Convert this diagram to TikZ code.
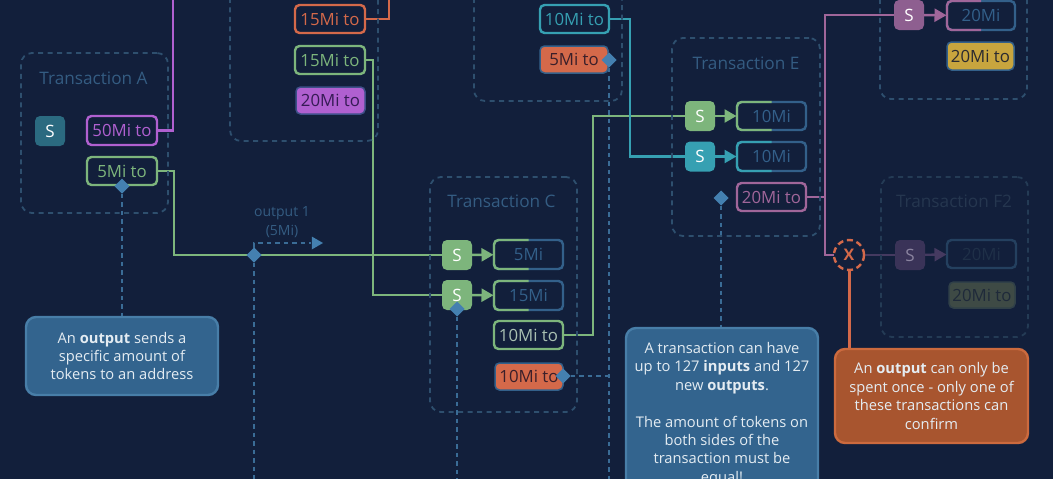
\documentclass[tikz,border=0pt]{standalone}
\usepackage{fontspec}
\setmainfont{Open Sans}
\usetikzlibrary{arrows.meta,shapes.geometric,backgrounds}
\definecolor{bgc}{HTML}{121F3B}
\definecolor{framec}{HTML}{2E4F6E}
\definecolor{dashc}{HTML}{3A6C96}
\definecolor{diac}{HTML}{4480B0}
\definecolor{titlec}{HTML}{345C82}
\definecolor{bluec}{HTML}{33608A}
\definecolor{greenc}{HTML}{7DB57C}
\definecolor{purplec}{HTML}{B060D0}
\definecolor{orangec}{HTML}{D4694A}
\definecolor{tealc}{HTML}{36A0B2}
\definecolor{mauvec}{HTML}{A0669A}
\definecolor{yellowc}{HTML}{C8A53E}
\definecolor{callblue}{HTML}{33648E}
\definecolor{callblueb}{HTML}{487EA8}
\definecolor{callor}{HTML}{A8552F}
\definecolor{callorb}{HTML}{CC6A3E}
\definecolor{calltext}{HTML}{E4ECF2}
\definecolor{fadetext}{HTML}{25364F}
\definecolor{fadeline}{HTML}{453A60}
\definecolor{fadeframe}{HTML}{243B55}
\definecolor{sAc}{HTML}{2B6A80}
\definecolor{darkpurple}{HTML}{351B55}
\definecolor{purpleb}{HTML}{3D4F88}
\definecolor{lightgreen}{HTML}{A9C0B2}
\definecolor{darkred}{HTML}{3A1F2A}
\definecolor{sFc}{HTML}{8E5F90}
\definecolor{darkgrey}{HTML}{2A2A30}
\definecolor{sGc}{HTML}{3A3358}
\definecolor{sGt}{HTML}{8B84A0}
\definecolor{gBorder}{HTML}{24405F}
\definecolor{gText}{HTML}{1F3048}
\definecolor{hBorder}{HTML}{304048}
\definecolor{hFill}{HTML}{3E4A45}
\definecolor{hText}{HTML}{1F2A3A}
\tikzset{
  frame/.style={draw=framec,line width=1.8pt,dash pattern=on 5pt off 4.5pt,rounded corners=11pt,inner sep=0,outer sep=0},
  title/.style={text=titlec,font=\fontsize{17.2}{19}\selectfont,inner sep=0},
  amount/.style={line width=2.4pt,rounded corners=4.5pt,inner sep=0,outer sep=0,font=\fontsize{16.8}{19}\selectfont},
  filled/.style={amount,line width=1.5pt},
  sbox/.style={rounded corners=5pt,text=white,font=\fontsize{17}{19}\selectfont,inner sep=0,outer sep=0,minimum size=30pt},
  conn/.style={line width=2.6pt},
  flow/.style={line width=2.4pt,-{Triangle[length=12pt,width=13pt]},shorten >=0.5pt},
  dotline/.style={line width=2.4pt,draw=dashc,dash pattern=on 4.5pt off 4pt},
  dia/.style={diamond,fill=diac,inner sep=0,outer sep=0,minimum size=15pt},
  callout/.style={line width=2.4pt,rounded corners=10pt,inner sep=0,outer sep=0,text=calltext,align=center,font=\fontsize{14.7}{18.4}\selectfont},
}
% place a node between two corners: style, name, x1, y1, x2, y2, text
\newcommand{\pbox}[7]{%
  \pgfmathsetmacro{\pcx}{(#3+#5)/2}\pgfmathsetmacro{\pcy}{(#4+#6)/2}%
  \pgfmathsetmacro{\pw}{#5-#3}\pgfmathsetmacro{\ph}{#6-#4}%
  \node[#1,minimum width=\pw pt,minimum height=\ph pt] (#2) at (\pcx,\pcy) {#7};}
% half-and-half border box: name, x1, y1, x2, y2, left colour, right colour, text colour, text
\newcommand{\halfbox}[9]{%
  \pbox{amount,draw=#7,text=#8}{#1}{#2}{#3}{#4}{#5}{#9}
  \pgfmathsetmacro{\pmx}{(#2+#4)/2}%
  \begin{scope}
    \clip (#2-3,#3-3) rectangle (\pmx,#5+3);
    \pbox{amount,draw=#6}{#1l}{#2}{#3}{#4}{#5}{}
  \end{scope}}
\begin{document}
\begin{tikzpicture}[x=1pt,y=-1pt]
\useasboundingbox (0,0) rectangle (1053,479);
\begin{scope}[on background layer]
  \fill[bgc] (0,0) rectangle (1053,479);
\end{scope}

% transaction frames
\pbox{frame}{txA}{21}{53}{168}{213}{}
\pbox{frame}{txB}{230}{-60}{378}{141}{}
\pbox{frame}{txC}{430}{177}{577}{412}{}
\pbox{frame}{txD}{474}{-60}{622}{101}{}
\pbox{frame}{txE}{672}{38}{820}{236}{}
\pbox{frame}{txF}{880}{-60}{1027}{99}{}
\pbox{frame,draw=fadeframe}{txFb}{881}{177}{1028}{337}{}

% frame titles
\node[title] (tA) at (93.5,78) {Transaction A};
\node[title] (tC) at (501.5,201.5) {Transaction C};
\node[title] (tE) at (746,63) {Transaction E};
\node[title,text=fadetext] (tF) at (954,201.5) {Transaction F2};

% transaction A
\pbox{sbox,fill=sAc}{sA}{35}{116}{65}{146}{S}
\pbox{amount,draw=purplec,text=purplec}{a50}{87}{116}{157}{145}{50Mi to}
\pbox{amount,draw=greenc,text=greenc}{a5}{87}{157}{157}{185}{5Mi to}

% transaction B
\pbox{amount,draw=orangec,text=orangec}{b15o}{295}{5}{365}{33}{15Mi to}
\pbox{amount,draw=greenc,text=greenc}{b15g}{295}{46}{365}{74}{15Mi to}
\pbox{filled,draw=purpleb,fill=purplec,text=darkpurple}{b20}{296}{87}{365}{114}{20Mi to}

% transaction C
\pbox{sbox,fill=greenc}{s1}{442}{240}{472}{270}{S}
\pbox{sbox,fill=greenc}{s2}{442}{280}{472}{310}{S}
\halfbox{c5}{494}{240}{563}{269}{greenc}{bluec}{bluec}{5Mi}
\halfbox{c15}{494}{281}{563}{310}{greenc}{bluec}{bluec}{15Mi}
\pbox{amount,draw=greenc,text=lightgreen}{c10}{494}{321}{563}{349}{10Mi to}
\pbox{filled,draw=bluec,fill=orangec,text=darkred}{c10o}{495}{363}{563}{390}{10Mi to}

% transaction D
\pbox{amount,draw=tealc,text=tealc}{d10}{540}{5}{609}{33}{10Mi to}
\pbox{filled,draw=bluec,fill=orangec,text=darkred}{d5}{540}{46}{608}{73}{5Mi to}

% transaction E
\pbox{sbox,fill=greenc}{s3}{685}{101}{715}{131}{S}
\pbox{sbox,fill=tealc}{s4}{685}{141.5}{715}{171.5}{S}
\halfbox{e1}{737}{102}{806}{130}{greenc}{bluec}{bluec}{10Mi}
\halfbox{e2}{737}{142}{806}{171}{tealc}{bluec}{bluec}{10Mi}
\pbox{amount,draw=mauvec,text=mauvec}{e20}{737}{183}{806}{211}{20Mi to}

% transaction F
\pbox{sbox,fill=sFc}{s5}{894}{0}{924}{30}{S}
\halfbox{f1}{947}{1}{1015}{30}{mauvec}{bluec}{bluec}{20Mi}
\pbox{filled,draw=bluec,fill=yellowc,text=darkgrey}{f2}{947}{42}{1014}{70}{20Mi to}

% transaction F2 (faded)
\pbox{sbox,fill=sGc,text=sGt}{s6}{895}{240}{925}{270}{S}
\pbox{amount,draw=gBorder,text=gText}{g1}{947}{240}{1016}{268}{20Mi}
\pbox{filled,draw=hBorder,fill=hFill,text=hText}{g2}{949}{282}{1015}{308}{20Mi to}

% conflict marker
\node[circle,draw=orangec,line width=2.4pt,dash pattern=on 6pt off 3.8pt,minimum size=30pt,inner sep=0,outer sep=0,text=orangec,font=\bfseries\fontsize{16}{18}\selectfont] (xm) at (849,255) {X};

% callouts
\pbox{callout,draw=callblueb,fill=callblue}{n1}{26}{317}{218}{395}{An \textbf{output} sends a\\specific amount of\\tokens to an address}
\pbox{callout,draw=callblueb,fill=callblue}{n2}{626}{328}{818}{500}{A transaction can have\\up to 127 \textbf{inputs} and 127\\new \textbf{outputs}.\\[18.4pt]The amount of tokens on\\both sides of the\\transaction must be\\equal!}
\pbox{callout,draw=callorb,fill=callor}{n3}{835}{349}{1028}{443}{An \textbf{output} can only be\\spent once - only one of\\these transactions can\\confirm}

% diamonds
\node[dia] (dA) at (122,186) {};
\node[dia] (dO) at (254,255) {};
\node[dia] (dS) at (457,309) {};
\node[dia] (dC) at (563,376) {};
\node[dia] (dD) at (609,60) {};
\node[dia] (dE) at (721,198) {};

% output label and free ends
\node[text=titlec,align=center,inner sep=0,font=\fontsize{14}{18.5}\selectfont] (ol) at (282,222) {output 1\\(5Mi)};
\coordinate (oe) at (311,243);
\coordinate (bO) at (254,479);
\coordinate (bS) at (457,479);
\coordinate (bD) at (609,479);
\coordinate (ta) at (173,-5);
\coordinate (tb) at (389,-5);

\begin{scope}[on background layer]
  % flows between outputs and inputs
  \draw[conn,purplec] (a50.east) -- (173,130.5) -- (ta);
  \draw[conn,orangec] (b15o.east) -- (389,19) -- (tb);
  \draw[conn,greenc] (a5.east) -- (174,171) -- (174,255) -- (s1.west);
  \draw[conn,greenc] (b15g.east) -- (373,60) -- (373,295) -- (s2.west);
  \draw[conn,greenc] (c10.east) -- (593,335) -- (593,116) -- (s3.west);
  \draw[conn,tealc] (d10.east) -- (630,19) -- (630,156.5) -- (s4.west);
  \draw[conn,mauvec] (e20.east) -- (825,197) -- (825,15) -- (s5.west);
  \draw[conn,mauvec] (825,197) -- (825,255) -- (xm.west);
  \draw[conn,fadeline] (xm.east) -- (s6.west);
  \draw[conn,line width=3pt,orangec] (xm.south) -- (n3.north -| xm.south);
  % annotation lines
  \draw[dotline] (dA) -- (n1.north -| dA);
  \draw[dotline] (dO) -- (bO);
  \draw[dotline] (dS) -- (bS);
  \draw[dotline] (dD) -- (bD);
  \draw[dotline] (dC) -- (bD |- dC);
  \draw[dotline] (dE) -- (n2.north -| dE);
\end{scope}
% hint arrow
\draw[dotline] (dO) -- (254,243) -- (oe);
\node[isosceles triangle,isosceles triangle apex angle=60,fill=diac,inner sep=0,outer sep=0,minimum height=11pt,minimum width=13pt] (tip) at (315.5,243) {};
% arrows from inputs to new outputs
\draw[flow,greenc] (s1) -- (c5);
\draw[flow,greenc] (s2) -- (c15);
\draw[flow,greenc] (s3) -- (e1);
\draw[flow,tealc] (s4) -- (e2);
\draw[flow,mauvec] (s5) -- (f1);
\draw[flow,fadeline] (s6) -- (g1);
\end{tikzpicture}
\end{document}
